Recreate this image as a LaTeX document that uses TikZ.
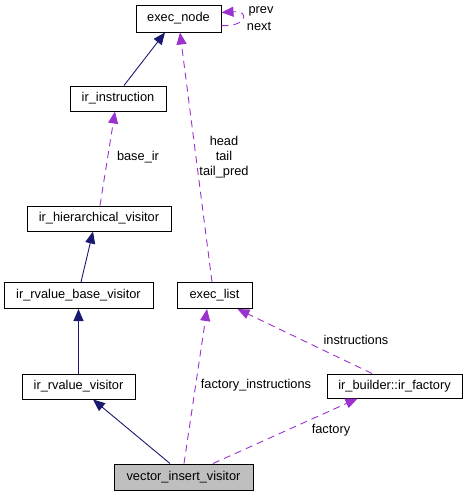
\documentclass[tikz,border=0pt]{standalone}
\usepackage{fontspec}
\setmainfont{Liberation Sans}
\usetikzlibrary{arrows.meta,calc}
\definecolor{navyedge}{RGB}{25,25,112}
\definecolor{orchidedge}{RGB}{154,50,205}
\definecolor{focusgray}{RGB}{191,191,191}
\begin{document}
\begin{tikzpicture}[x=1pt,y=-1pt,
  box/.style={draw=black,line width=1pt,rectangle,inner sep=0pt,font=\fontsize{12.8}{14}\selectfont},
  inherit/.style={draw=navyedge,line width=0.9pt,-{Triangle[length=12pt,width=10pt]}},
  uses/.style={draw=orchidedge,line width=0.9pt,dash pattern=on 7pt off 5pt,-{Triangle[length=12pt,width=10pt]}},
  lab/.style={font=\fontsize{12.8}{15}\selectfont,inner sep=0pt,align=center}]
\useasboundingbox (0,0) rectangle (468,496);
\node[box,minimum width=85pt,minimum height=27pt] (execnode) at (178.5,18.5) {exec\_node};
\node[box,minimum width=96pt,minimum height=25pt] (irinst) at (118,98.5) {ir\_instruction};
\node[box,minimum width=144pt,minimum height=25pt] (irhier) at (99,218.5) {ir\_hierarchical\_visitor};
\node[box,minimum width=149pt,minimum height=26pt] (irrbase) at (78.5,295.5) {ir\_rvalue\_base\_visitor};
\node[box,minimum width=75pt,minimum height=26pt] (execlist) at (214.5,295.5) {exec\_list};
\node[box,minimum width=113pt,minimum height=25pt] (irrv) at (78.5,386.5) {ir\_rvalue\_visitor};
\node[box,minimum width=135pt,minimum height=24pt] (irfac) at (394.5,386) {ir\_builder::ir\_factory};
\node[box,fill=focusgray,minimum width=139pt,minimum height=26pt] (vis) at (183.5,477) {vector\_insert\_visitor};

% self loop
\coordinate (loopout) at ($(execnode.east)+(0,7)$);
\coordinate (loopin) at ($(execnode.east)+(0,-6)$);
\draw[uses] (loopout) .. controls ($(loopout)+(24,2)$) and ($(loopin)+(30,-2)$) .. (loopin);
\node[lab] (lprev) at (261,11) {prev};
\node[lab] (lnext) at (259,26) {next};

% inheritance
\draw[inherit] ($(irinst.north)+(6,0)$) -- ($(execnode.south)+(-13.5,0)$);
\draw[inherit] ($(irrbase.north)+(2.5,0)$) -- ($(irhier.south)+(-6,0)$);
\draw[inherit] (irrv.north) -- (irrbase.south);
\draw[inherit] ($(vis.north)+(-13.5,0)$) -- ($(irrv.south)+(14.5,0)$);

% usage
\draw[uses] ($(execlist.north)+(-2.5,0)$) -- ($(execnode.south)+(1.5,0)$);
\node[lab] (lhead) at (224,157) {head\\tail\\tail\_pred};
\draw[uses] ($(irhier.north)+(1,0)$) -- ($(irinst.south)+(-3,0)$);
\node[lab] (lbase) at (138,157) {base\_ir};
\draw[uses] ($(vis.north)+(0.5,0)$) -- ($(execlist.south)+(-7.5,0)$);
\node[lab] (lfi) at (256,385) {factory\_instructions};
\draw[uses] ($(irfac.north)+(-22.5,0)$) -- ($(execlist.south)+(23,0)$);
\node[lab] (linstr) at (356,340) {instructions};
\draw[uses] ($(vis.north)+(29.5,0)$) -- ($(irfac.south)+(-37,0)$);
\node[lab] (lfac) at (331,430) {factory};
\end{tikzpicture}
\end{document}
